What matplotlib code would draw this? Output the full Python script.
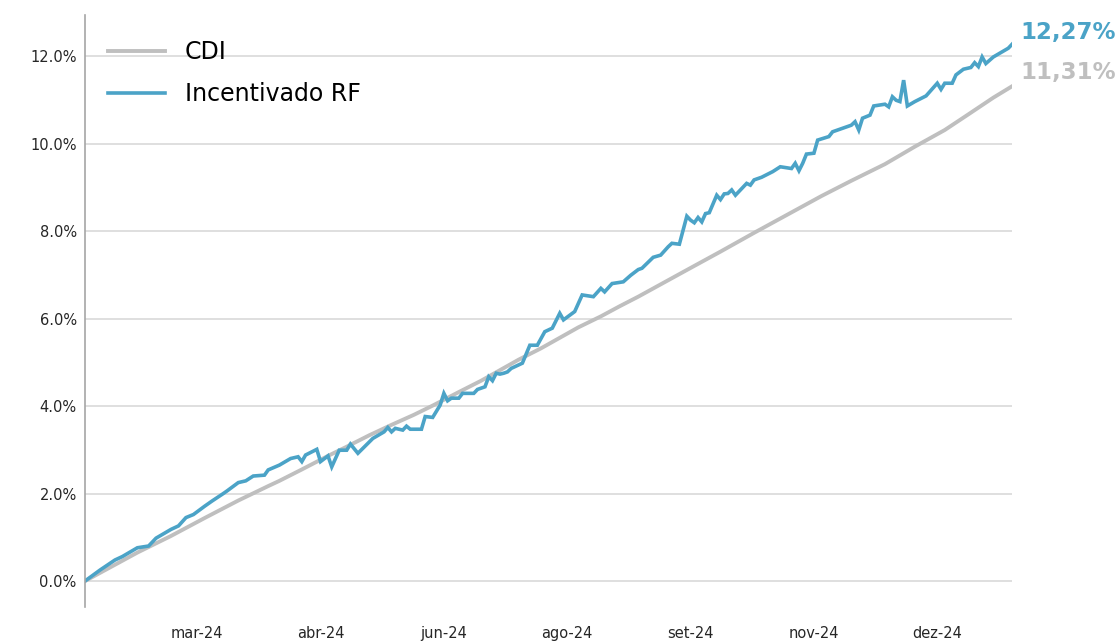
import matplotlib.pyplot as plt
from matplotlib.ticker import FuncFormatter

# Dias úteis desde o início da janela e retorno acumulado (%)
dias_cdi = [0, 14, 23, 32, 41, 49, 52, 58, 65, 70, 76, 82, 88, 93, 100, 106, 111, 116,
            122, 127, 132, 138, 143, 148, 161, 170, 179, 188, 197, 205, 214, 222, 230,
            236, 243, 248]
cdi = [0.00, 0.65, 1.03, 1.44, 1.84, 2.17, 2.29, 2.55, 2.86, 3.07, 3.33, 3.57, 3.80,
       4.01, 4.32, 4.58, 4.82, 5.06, 5.32, 5.56, 5.80, 6.05, 6.28, 6.50, 7.11, 7.53,
       7.96, 8.38, 8.80, 9.15, 9.53, 9.93, 10.31, 10.65, 11.05, 11.31]

dias_rf = [0, 4, 8, 10, 14, 17, 19, 23, 25, 27, 29, 32, 34, 37, 38, 41, 43, 45, 48, 49,
           52, 55, 57, 58, 59, 62, 63, 65, 66, 68, 70, 71, 73, 77, 80, 81, 82, 83, 85,
           86, 87, 90, 91, 93, 95, 96, 97, 98, 100, 101, 104, 105, 107, 108, 109, 110,
           111, 112, 113, 114, 117, 119, 121, 123, 125, 127, 128, 131, 133, 136, 138,
           139, 141, 144, 146, 148, 149, 152, 154, 156, 157, 159, 161, 162, 163, 164,
           165, 166, 167, 169, 170, 171, 172, 173, 174, 177, 178, 179, 181, 184, 186,
           189, 190, 191, 192, 193, 195, 196, 199, 200, 205, 206, 207, 208, 210, 211,
           214, 215, 216, 217, 218, 219, 220, 222, 225, 228, 229, 230, 232, 233, 235,
           237, 238, 239, 240, 241, 243, 245, 247, 248]
incentivado_rf = [0.00, 0.25, 0.48, 0.56, 0.76, 0.80, 0.98, 1.18, 1.26, 1.45, 1.52, 1.71,
                  1.83, 2.00, 2.06, 2.25, 2.29, 2.40, 2.42, 2.54, 2.65, 2.80, 2.84, 2.73,
                  2.88, 3.01, 2.73, 2.86, 2.61, 2.99, 2.99, 3.13, 2.92, 3.26, 3.41, 3.51,
                  3.41, 3.49, 3.45, 3.54, 3.47, 3.47, 3.76, 3.74, 4.02, 4.29, 4.12, 4.18,
                  4.18, 4.29, 4.29, 4.38, 4.44, 4.67, 4.58, 4.75, 4.73, 4.75, 4.78, 4.86,
                  4.98, 5.39, 5.39, 5.70, 5.78, 6.12, 5.97, 6.16, 6.54, 6.50, 6.69, 6.61,
                  6.80, 6.84, 6.99, 7.12, 7.15, 7.40, 7.45, 7.64, 7.72, 7.70, 8.34, 8.25,
                  8.19, 8.31, 8.21, 8.40, 8.42, 8.82, 8.72, 8.85, 8.86, 8.94, 8.82, 9.09,
                  9.05, 9.17, 9.23, 9.36, 9.47, 9.43, 9.55, 9.38, 9.55, 9.76, 9.78, 10.08,
                  10.16, 10.27, 10.42, 10.50, 10.31, 10.58, 10.65, 10.86, 10.90, 10.84,
                  11.07, 10.99, 10.96, 11.45, 10.86, 10.96, 11.09, 11.38, 11.24, 11.38,
                  11.38, 11.57, 11.70, 11.74, 11.85, 11.76, 11.98, 11.83, 11.98, 12.08,
                  12.18, 12.27]

tick_dias = [30, 63, 96, 129, 162, 195, 228]
tick_labels = ['mar-24', 'abr-24', 'jun-24', 'ago-24', 'set-24', 'nov-24', 'dez-24']

cor_cdi = '#BFBFBF'
cor_rf = '#4BA3C7'

fig = plt.figure(figsize=(11.19, 6.43), dpi=100)
ax = fig.add_axes([0.076, 0.056, 0.8284, 0.9207])

ax.plot(dias_cdi, cdi, color=cor_cdi, lw=2.8, label='CDI', solid_joinstyle='round')
ax.plot(dias_rf, incentivado_rf, color=cor_rf, lw=2.6, label='Incentivado RF',
        solid_joinstyle='miter')

ax.set_xlim(0, 248)
ax.set_ylim(-0.594, 12.94)
ax.set_yticks([0, 2, 4, 6, 8, 10, 12])
ax.yaxis.set_major_formatter(FuncFormatter(lambda v, p: f'{v:.1f}%'))
ax.set_xticks(tick_dias)
ax.set_xticklabels(tick_labels)

ax.grid(axis='y', color='#D9D9D9', lw=1.2)
ax.set_axisbelow(True)
for s in ['top', 'right', 'bottom']:
    ax.spines[s].set_visible(False)
ax.spines['left'].set_color('#A6A6A6')
ax.spines['left'].set_linewidth(1.2)
ax.tick_params(axis='both', length=0, labelsize=10.5, labelcolor='#262626')
ax.tick_params(axis='y', pad=6)
ax.tick_params(axis='x', pad=14)

# rótulos finais
ax.annotate('12,27%', xy=(dias_rf[-1], incentivado_rf[-1]), xytext=(8, 12),
            textcoords='offset pixels', color=cor_rf, fontsize=16.5, fontweight='bold',
            va='center', ha='left', annotation_clip=False)
ax.annotate('11,31%', xy=(dias_cdi[-1], cdi[-1]), xytext=(8, 14),
            textcoords='offset pixels', color=cor_cdi, fontsize=16.5, fontweight='bold',
            va='center', ha='left', annotation_clip=False)

ax.legend(loc='upper left', bbox_to_anchor=(0.002, 0.993), frameon=False, fontsize=17,
          handlelength=2.4, handletextpad=0.85, labelspacing=0.75)

plt.savefig('out.png', dpi=100)
